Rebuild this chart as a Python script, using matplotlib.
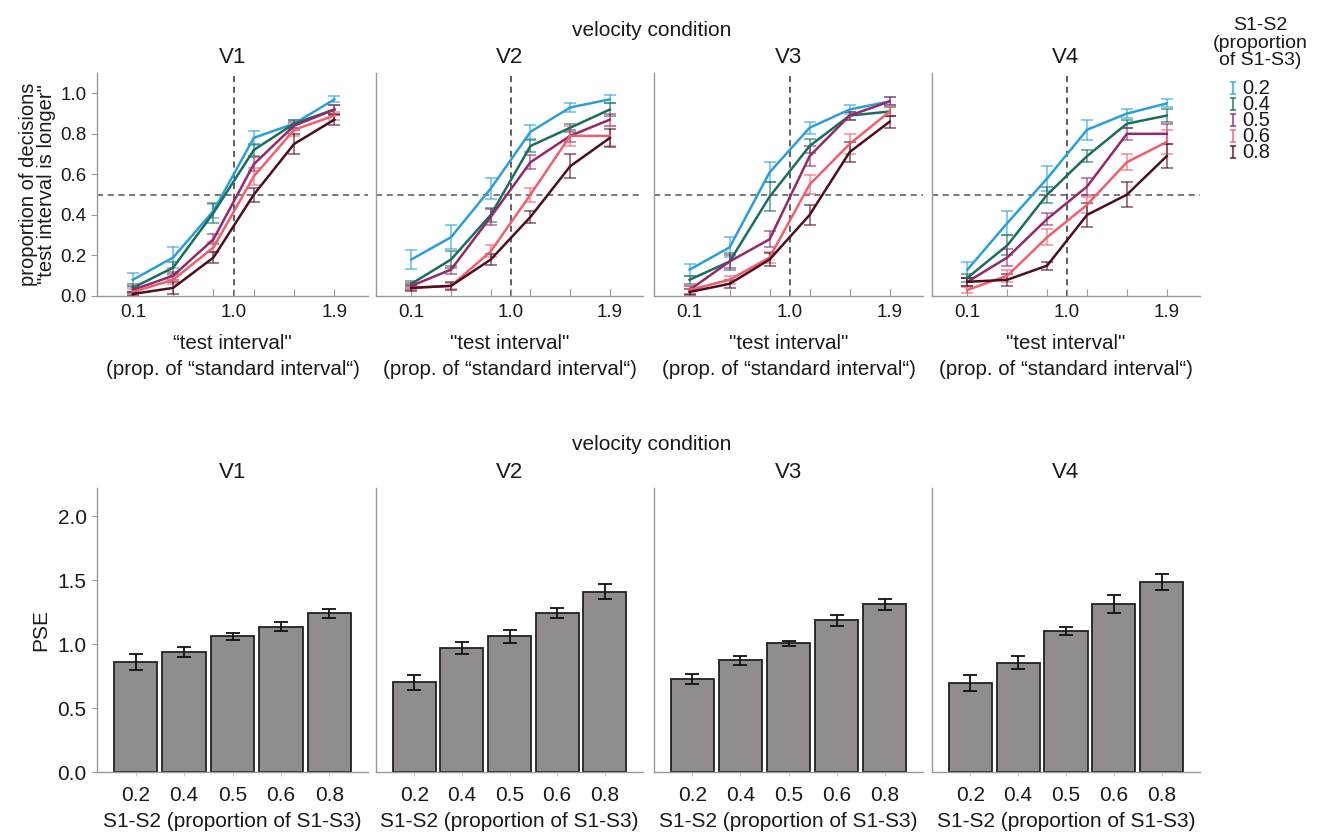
import matplotlib
matplotlib.use("Agg")
import matplotlib.pyplot as plt
import numpy as np

plt.rcParams['font.family'] = ['Liberation Sans', 'DejaVu Sans']

# ---- data ----
test_levels = [0.1, 0.46, 0.82, 1.18, 1.54, 1.9]
conditions = ['V1', 'V2', 'V3', 'V4']
ratios = ['0.2', '0.4', '0.5', '0.6', '0.8']
colors = ['#2b9fd9', '#1b6d5e', '#93286b', '#ef5f6d', '#4d0f1f']

# proportion "test interval is longer", per condition, per S1-S2 ratio
prop_v1 = [[0.08, 0.19, 0.42, 0.78, 0.85, 0.97],
           [0.04, 0.14, 0.41, 0.72, 0.85, 0.92],
           [0.03, 0.10, 0.28, 0.65, 0.84, 0.92],
           [0.02, 0.08, 0.24, 0.59, 0.82, 0.89],
           [0.01, 0.04, 0.19, 0.50, 0.75, 0.87]]
prop_v2 = [[0.18, 0.29, 0.53, 0.81, 0.93, 0.97],
           [0.06, 0.18, 0.40, 0.74, 0.83, 0.92],
           [0.05, 0.13, 0.39, 0.66, 0.79, 0.87],
           [0.04, 0.05, 0.22, 0.50, 0.79, 0.79],
           [0.04, 0.05, 0.18, 0.39, 0.64, 0.78]]
prop_v3 = [[0.13, 0.24, 0.61, 0.83, 0.92, 0.96],
           [0.08, 0.17, 0.49, 0.74, 0.89, 0.91],
           [0.03, 0.17, 0.28, 0.69, 0.89, 0.96],
           [0.03, 0.08, 0.19, 0.55, 0.75, 0.91],
           [0.02, 0.06, 0.18, 0.40, 0.71, 0.86]]
prop_v4 = [[0.13, 0.36, 0.58, 0.82, 0.90, 0.95],
           [0.09, 0.25, 0.50, 0.69, 0.85, 0.89],
           [0.07, 0.19, 0.38, 0.54, 0.80, 0.80],
           [0.03, 0.10, 0.29, 0.45, 0.66, 0.76],
           [0.07, 0.08, 0.15, 0.40, 0.50, 0.69]]

err_v1 = [[0.035, 0.05, 0.035, 0.035, 0.02, 0.015],
          [0.02, 0.03, 0.05, 0.03, 0.02, 0.02],
          [0.02, 0.02, 0.025, 0.035, 0.02, 0.02],
          [0.015, 0.02, 0.025, 0.04, 0.03, 0.02],
          [0.01, 0.03, 0.025, 0.035, 0.05, 0.025]]
err_v2 = [[0.045, 0.06, 0.05, 0.035, 0.02, 0.02],
          [0.015, 0.04, 0.035, 0.03, 0.02, 0.03],
          [0.015, 0.02, 0.04, 0.035, 0.03, 0.03],
          [0.01, 0.015, 0.03, 0.035, 0.05, 0.05],
          [0.015, 0.02, 0.025, 0.03, 0.06, 0.045]]
err_v3 = [[0.03, 0.05, 0.05, 0.03, 0.02, 0.02],
          [0.02, 0.04, 0.07, 0.035, 0.02, 0.02],
          [0.02, 0.03, 0.04, 0.05, 0.02, 0.02],
          [0.02, 0.02, 0.025, 0.045, 0.05, 0.02],
          [0.015, 0.02, 0.03, 0.05, 0.05, 0.03]]
err_v4 = [[0.04, 0.06, 0.06, 0.05, 0.02, 0.02],
          [0.02, 0.05, 0.04, 0.03, 0.02, 0.03],
          [0.02, 0.04, 0.03, 0.04, 0.03, 0.05],
          [0.015, 0.03, 0.04, 0.04, 0.04, 0.06],
          [0.02, 0.03, 0.02, 0.06, 0.06, 0.06]]

# PSE per condition (bars) and their errors
pse_v1 = [0.86, 0.94, 1.06, 1.135, 1.24]
pse_v2 = [0.70, 0.97, 1.06, 1.24, 1.41]
pse_v3 = [0.725, 0.875, 1.005, 1.185, 1.31]
pse_v4 = [0.695, 0.855, 1.10, 1.31, 1.485]
pse_err_v1 = [0.06, 0.04, 0.025, 0.035, 0.035]
pse_err_v2 = [0.06, 0.05, 0.05, 0.04, 0.06]
pse_err_v3 = [0.04, 0.035, 0.02, 0.04, 0.04]
pse_err_v4 = [0.06, 0.05, 0.03, 0.07, 0.065]

props = [prop_v1, prop_v2, prop_v3, prop_v4]
errs = [err_v1, err_v2, err_v3, err_v4]
pses = [pse_v1, pse_v2, pse_v3, pse_v4]
pse_errs = [pse_err_v1, pse_err_v2, pse_err_v3, pse_err_v4]

W, H = 1324, 833
fig = plt.figure(figsize=(W / 100, H / 100), dpi=100)

lefts = [97, 376, 654, 932]
widths = [271, 267, 269, 268]
spine_c = '#9a9a9a'
txt_c = '#1a1a1a'


def style(ax, fs):
    for s in ['top', 'right']:
        ax.spines[s].set_visible(False)
    for s in ['left', 'bottom']:
        ax.spines[s].set_color(spine_c)
        ax.spines[s].set_linewidth(1.0)
    ax.tick_params(colors=spine_c, labelcolor=txt_c, labelsize=fs)


# ---- top row: psychometric curves ----
top_b, top_t = 296, 73
for i, cond in enumerate(conditions):
    ax = fig.add_axes([lefts[i] / W, 1 - top_b / H, widths[i] / W, (top_b - top_t) / H])
    style(ax, 13.5)
    for j in range(len(ratios)):
        ax.plot(test_levels, props[i][j], color=colors[j], lw=1.8, zorder=3)
        ax.errorbar(test_levels, props[i][j], yerr=errs[i][j], fmt='none',
                    ecolor=colors[j], alpha=0.7, elinewidth=1.1, capsize=4, capthick=1.1, zorder=2)
    ax.axvline(1.0, color='#333333', ls=(0, (4, 3)), lw=1.1, zorder=1)
    ax.axhline(0.5, color='#555555', ls=(0, (4, 3)), lw=1.1, zorder=1, clip_on=False)
    ax.set_xlim(-0.22, 2.2)
    ax.set_ylim(0, 1.1)
    ax.set_xticks([0.1, 0.46, 0.82, 1.0, 1.18, 1.54, 1.9])
    ax.set_xticklabels(['0.1', '', '', '1.0', '', '', '1.9'])
    ax.tick_params(axis='x', direction='in', length=5, pad=6)
    ax.set_yticks([0, 0.2, 0.4, 0.6, 0.8, 1.0])
    ax.tick_params(axis='y', direction='out', length=4)
    if i == 0:
        ax.set_yticklabels(['0.0', '0.2', '0.4', '0.6', '0.8', '1.0'])
        ax.set_ylabel('proportion of decisions\n"test interval is longer"', fontsize=14.5,
                      linespacing=0.95, labelpad=3, color=txt_c)
        first = '\u201ctest interval"'
    else:
        ax.set_yticklabels([])
        ax.tick_params(axis='y', length=0)
        first = '"test interval"'
    ax.set_xlabel(first + '\n(prop. of \u201cstandard interval\u201c)', fontsize=14.8,
                  linespacing=1.5, labelpad=9, color=txt_c)
    ax.set_title(cond, fontsize=16, pad=7, color=txt_c)

fig.text(652 / W, 1 - 31 / H, 'velocity condition', ha='center', va='center',
         fontsize=15, color=txt_c)

# ---- bottom row: PSE bars ----
bot_b, bot_t = 772, 488
xpos = np.arange(len(ratios))
for i, cond in enumerate(conditions):
    ax = fig.add_axes([lefts[i] / W, 1 - bot_b / H, widths[i] / W, (bot_b - bot_t) / H])
    style(ax, 15)
    ax.bar(xpos, pses[i], width=0.9, color='#918d8d', edgecolor='#222222', linewidth=1.3, zorder=2)
    ax.errorbar(xpos, pses[i], yerr=pse_errs[i], fmt='none', ecolor='#111111',
                elinewidth=1.3, capsize=5, capthick=1.3, zorder=3)
    ax.set_xlim(-0.8, 4.8)
    ax.set_ylim(0, 2.22)
    ax.set_xticks(xpos)
    ax.set_xticklabels(ratios)
    ax.tick_params(axis='x', direction='inout', length=6, pad=7, colors='#cccccc', labelcolor=txt_c)
    ax.set_yticks([0, 0.5, 1.0, 1.5, 2.0])
    if i == 0:
        ax.set_yticklabels(['0.0', '0.5', '1.0', '1.5', '2.0'])
        ax.set_ylabel('PSE', fontsize=15, labelpad=5, color=txt_c)
        ax.tick_params(axis='y', direction='out', length=4)
    else:
        ax.set_yticklabels([])
        ax.tick_params(axis='y', length=0)
    ax.set_xlabel('S1-S2 (proportion of S1-S3)', fontsize=15, labelpad=5, color=txt_c)
    ax.set_title(cond, fontsize=16, pad=7, color=txt_c)

fig.text(652 / W, 1 - 444 / H, 'velocity condition', ha='center', va='center',
         fontsize=15, color=txt_c)

# ---- legend (S1-S2 ratio) ----
fig.text(1260 / W, 1 - 43 / H, 'S1-S2\n(proportion\nof S1-S3)', ha='center', va='center',
         fontsize=14, linespacing=1.05, color=txt_c)
leg_ax = fig.add_axes([1222 / W, 1 - 160 / H, 60 / W, 80 / H])
leg_ax.axis('off')
leg_ax.set_xlim(0, 6)
leg_ax.set_ylim(len(ratios) - 0.5, -0.5)
for j, c in enumerate(colors):
    leg_ax.errorbar([1.1], [j], yerr=[0.36], fmt='none', ecolor=c, alpha=0.85,
                    elinewidth=1.2, capsize=2.5, capthick=1.2)
fig.text(1242 / W, 1 - 120 / H, '\n'.join(ratios), ha='left', va='center',
         fontsize=14.5, linespacing=0.8, color=txt_c)

fig.savefig('out.png', dpi=100)
